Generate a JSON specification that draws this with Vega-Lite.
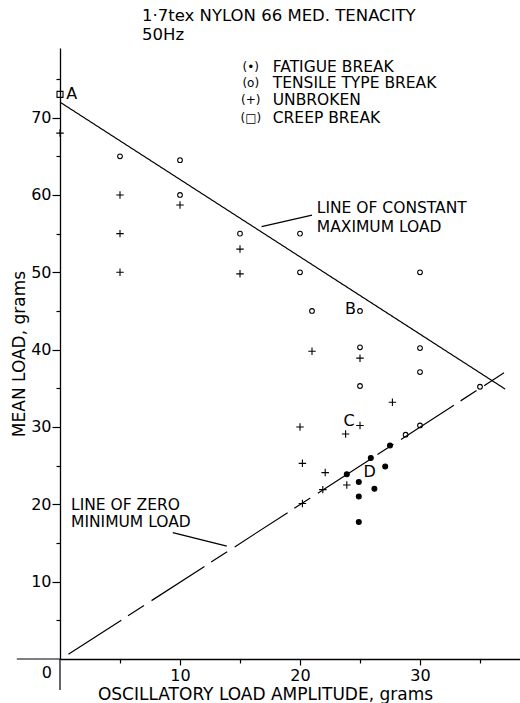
{
  "$schema": "https://vega.github.io/schema/vega-lite/v6.json",
  "width": 460,
  "height": 611,
  "autosize": {"type": "none"},
  "padding": {"left": 60, "top": 48, "right": 0, "bottom": 44},
  "background": "white",
  "config": {
    "view": {"stroke": null},
    "font": "DejaVu Sans",
    "text": {"font": "DejaVu Sans", "color": "black"},
    "axis": {"grid": false, "domainColor": "black", "domainWidth": 1.3, "tickColor": "black", "tickWidth": 1.2, "labelColor": "black", "titleColor": "black", "labelFont": "DejaVu Sans", "titleFont": "DejaVu Sans", "labelFontSize": 16, "titleFontSize": 17, "titleFontWeight": "normal", "labelFlush": false, "labelOverlap": false}
  },
  "title": {
    "text": ["1·7tex NYLON 66 MED. TENACITY", "50Hz"],
    "anchor": "start",
    "frame": "group",
    "dx": 82,
    "offset": 5,
    "fontSize": 16.5,
    "fontWeight": "normal",
    "lineHeight": 19,
    "font": "DejaVu Sans",
    "color": "black"
  },
  "datasets": {
    "points": [
      {"x": 0, "y": 73, "type": "creep"},
      {"x": 0, "y": 68, "type": "unbroken"},
      {"x": 5, "y": 65, "type": "tensile"},
      {"x": 10, "y": 64.5, "type": "tensile"},
      {"x": 5, "y": 60, "type": "unbroken"},
      {"x": 10, "y": 60, "type": "tensile"},
      {"x": 10, "y": 58.7, "type": "unbroken"},
      {"x": 5, "y": 55, "type": "unbroken"},
      {"x": 15, "y": 55, "type": "tensile"},
      {"x": 15, "y": 53, "type": "unbroken"},
      {"x": 5, "y": 50, "type": "unbroken"},
      {"x": 15, "y": 49.8, "type": "unbroken"},
      {"x": 20, "y": 55, "type": "tensile"},
      {"x": 20, "y": 50, "type": "tensile"},
      {"x": 21, "y": 45, "type": "tensile"},
      {"x": 25, "y": 45, "type": "tensile"},
      {"x": 21, "y": 39.8, "type": "unbroken"},
      {"x": 25, "y": 40.3, "type": "tensile"},
      {"x": 25, "y": 38.9, "type": "unbroken"},
      {"x": 25, "y": 35.3, "type": "tensile"},
      {"x": 20, "y": 30, "type": "unbroken"},
      {"x": 25, "y": 30.2, "type": "unbroken"},
      {"x": 23.8, "y": 29.1, "type": "unbroken"},
      {"x": 30, "y": 50, "type": "tensile"},
      {"x": 30, "y": 40.2, "type": "tensile"},
      {"x": 30, "y": 37.1, "type": "tensile"},
      {"x": 27.7, "y": 33.2, "type": "unbroken"},
      {"x": 35, "y": 35.2, "type": "tensile"},
      {"x": 30, "y": 30.2, "type": "tensile"},
      {"x": 28.8, "y": 29, "type": "tensile"},
      {"x": 27.5, "y": 27.6, "type": "fatigue"},
      {"x": 25.9, "y": 26, "type": "fatigue"},
      {"x": 20.2, "y": 25.3, "type": "unbroken"},
      {"x": 27.1, "y": 24.9, "type": "fatigue"},
      {"x": 22.1, "y": 24.1, "type": "unbroken"},
      {"x": 23.9, "y": 23.9, "type": "fatigue"},
      {"x": 24.9, "y": 22.9, "type": "fatigue"},
      {"x": 23.9, "y": 22.5, "type": "unbroken"},
      {"x": 26.2, "y": 22.0, "type": "fatigue"},
      {"x": 21.9, "y": 21.9, "type": "unbroken"},
      {"x": 24.9, "y": 21.0, "type": "fatigue"},
      {"x": 20.2, "y": 20.1, "type": "unbroken"},
      {"x": 24.9, "y": 17.7, "type": "fatigue"}
    ],
    "lines": [
      {"x": 0, "y": 72, "line": "max"},
      {"x": 37.1, "y": 34.9, "line": "max"},
      {"x": 0.7, "y": 0.6, "line": "zero"},
      {"x": 37, "y": 37, "line": "zero"}
    ],
    "rules": [
      {"x": -3.6, "y": 0, "x2": 0, "y2": 0},
      {"x": 0, "y": -4, "x2": 0, "y2": 0},
      {"x": 16.8, "y": 55.9, "x2": 21.0, "y2": 57.4},
      {"x": 9.4, "y": 16.35, "x2": 13.9, "y2": 14.6}
    ],
    "legendKeys": [
      {"x": 15.9, "y": 76.6, "text": "(•)"},
      {"x": 15.9, "y": 74.5, "text": "(o)"},
      {"x": 15.9, "y": 72.3, "text": "(+)"},
      {"x": 15.9, "y": 70.0, "text": "(□)"}
    ],
    "leftText": [
      {"x": 17.73, "y": 76.6, "text": "FATIGUE BREAK"},
      {"x": 17.73, "y": 74.5, "text": "TENSILE TYPE BREAK"},
      {"x": 17.73, "y": 72.3, "text": "UNBROKEN"},
      {"x": 17.73, "y": 70.0, "text": "CREEP BREAK"},
      {"x": 21.4, "y": 58.3, "text": "LINE OF CONSTANT"},
      {"x": 21.4, "y": 55.8, "text": "MAXIMUM LOAD"},
      {"x": 0.92, "y": 19.9, "text": "LINE OF ZERO"},
      {"x": 0.92, "y": 17.7, "text": "MINIMUM LOAD"}
    ],
    "centerText": [
      {"x": 0.97, "y": 73.1, "text": "A"},
      {"x": 24.2, "y": 45.3, "text": "B"},
      {"x": 24.1, "y": 30.8, "text": "C"},
      {"x": 25.8, "y": 24.2, "text": "D"},
      {"x": -1.1, "y": -1.8, "text": "0"}
    ]
  },
  "layer": [
    {
      "data": {"name": "rules"},
      "mark": {"type": "rule", "color": "black", "strokeWidth": 1.2},
      "encoding": {
        "x": {"field": "x", "type": "quantitative", "scale": {"domain": [0, 38.333], "nice": false, "zero": false},
          "axis": {"values": [5, 10, 15, 20, 25, 30, 35], "labelExpr": "datum.value % 10 === 0 ? datum.label : ''",
            "tickSize": {"condition": {"test": "datum.value % 10 === 0", "value": 6}, "value": 4},
            "labelPadding": 2, "title": "OSCILLATORY LOAD AMPLITUDE, grams", "titleX": 205, "titlePadding": 3}},
        "y": {"field": "y", "type": "quantitative", "scale": {"domain": [0, 79], "nice": false, "zero": false},
          "axis": {"values": [5, 10, 15, 20, 25, 30, 35, 40, 45, 50, 55, 60, 65, 70, 75], "labelExpr": "datum.value % 10 === 0 ? datum.label : ''",
            "tickSize": {"condition": {"test": "datum.value % 10 === 0", "value": 8}, "value": 4},
            "labelPadding": 1, "title": "MEAN LOAD, grams", "titlePadding": 2}},
        "x2": {"field": "x2"},
        "y2": {"field": "y2"}
      }
    },
    {
      "data": {"name": "lines"},
      "mark": {"type": "line", "color": "black", "strokeWidth": 1.2},
      "encoding": {
        "x": {"field": "x", "type": "quantitative"},
        "y": {"field": "y", "type": "quantitative"},
        "detail": {"field": "line"},
        "strokeDash": {"field": "line", "type": "nominal", "scale": {"domain": ["max", "zero"], "range": [[1, 0], [63, 8, 19, 9]]}, "legend": null}
      }
    },
    {
      "data": {"name": "points"},
      "mark": {"type": "point", "filled": true, "stroke": "black", "strokeWidth": 1.1, "opacity": 1},
      "encoding": {
        "x": {"field": "x", "type": "quantitative"},
        "y": {"field": "y", "type": "quantitative"},
        "shape": {"field": "type", "type": "nominal", "scale": {"domain": ["fatigue", "tensile", "unbroken", "creep"], "range": ["circle", "circle", "M-1,0L1,0M0,-1L0,1", "square"]}, "legend": null},
        "fill": {"field": "type", "type": "nominal", "scale": {"domain": ["fatigue", "tensile", "unbroken", "creep"], "range": ["black", "transparent", "transparent", "transparent"]}, "legend": null},
        "size": {"field": "type", "type": "ordinal", "scale": {"type": "ordinal", "domain": ["fatigue", "tensile", "unbroken", "creep"], "range": [24, 22, 56, 36]}, "legend": null}
      }
    },
    {
      "data": {"name": "legendKeys"},
      "mark": {"type": "text", "align": "center", "baseline": "middle", "fontSize": 12},
      "encoding": {
        "x": {"field": "x", "type": "quantitative"},
        "y": {"field": "y", "type": "quantitative"},
        "text": {"field": "text"}
      }
    },
    {
      "data": {"name": "leftText"},
      "mark": {"type": "text", "align": "left", "baseline": "middle", "fontSize": 15.5},
      "encoding": {
        "x": {"field": "x", "type": "quantitative"},
        "y": {"field": "y", "type": "quantitative"},
        "text": {"field": "text"}
      }
    },
    {
      "data": {"name": "centerText"},
      "mark": {"type": "text", "align": "center", "baseline": "middle", "fontSize": 16},
      "encoding": {
        "x": {"field": "x", "type": "quantitative"},
        "y": {"field": "y", "type": "quantitative"},
        "text": {"field": "text"}
      }
    }
  ]
}
